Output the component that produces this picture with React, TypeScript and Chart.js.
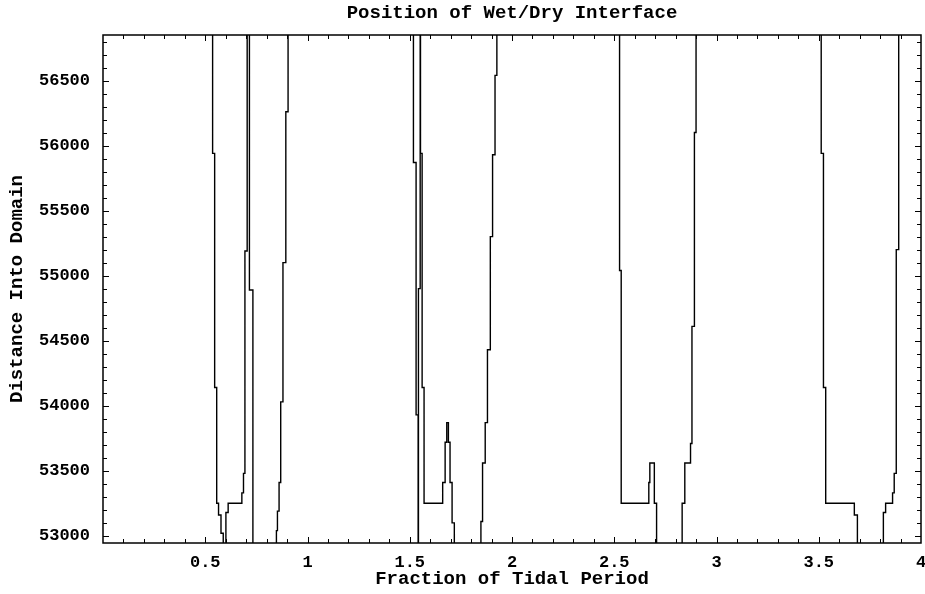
import React, { useEffect, useRef } from "react";
import { Chart, registerables } from "chart.js";

Chart.register(...registerables);

// ---- text ----
const TITLE = "Position of Wet/Dry Interface";
const X_TITLE = "Fraction of Tidal Period";
const Y_TITLE = "Distance Into Domain";

// ---- axes ----
const X_MIN = 0;
const X_MAX = 4;
const Y_MIN = 52945;
const Y_MAX = 56850;
const xTickValues = [0.5, 1, 1.5, 2, 2.5, 3, 3.5, 4];
const xTickLabels = ["0.5", "1", "1.5", "2", "2.5", "3", "3.5", "4"];
const yTickValues = [53000, 53500, 54000, 54500, 55000, 55500, 56000, 56500];
const yTickLabels = ["53000", "53500", "54000", "54500", "55000", "55500", "56000", "56500"];
const X_MINOR_STEP = 0.1;
const Y_MINOR_STEP = 100;

// ---- data: interface position (stepped), values beyond the frame are off-scale ----
const cycle1Time = [0, 0.536, 0.546, 0.556, 0.565, 0.577, 0.588, 0.601, 0.612, 0.679, 0.687, 0.694, 0.705, 0.716, 0.733, 0.848, 0.853, 0.861, 0.869, 0.88, 0.894, 0.905];
const cycle1Dist = [57200, 55940, 54140, 53250, 53160, 53020, 52700, 53180, 53250, 53330, 53480, 55190, 57200, 54890, 52700, 53040, 53190, 53410, 54030, 55100, 56260, 57200];

const cycle2Time = [1.518, 1.531, 1.541, 1.5425, 1.551, 1.5525, 1.5605, 1.57, 1.661, 1.673, 1.681, 1.689, 1.697, 1.707, 1.718, 1.848, 1.856, 1.869, 1.88, 1.894, 1.905, 1.917, 1.926];
const cycle2Dist = [55870, 53930, 52700, 54900, 57200, 55940, 54140, 53250, 53410, 53720, 53870, 53720, 53410, 53100, 52700, 53110, 53560, 53870, 54430, 55300, 55930, 56540, 57200];

const cycle3Time = [2.526, 2.534, 2.669, 2.674, 2.696, 2.707, 2.832, 2.845, 2.873, 2.88, 2.892, 2.9];
const cycle3Dist = [55040, 53250, 53410, 53560, 53250, 52700, 53250, 53560, 53710, 54610, 56100, 57200];

const cycle4Time = [3.512, 3.523, 3.534, 3.674, 3.689, 3.816, 3.827, 3.861, 3.869, 3.879, 3.891, 4.0];
const cycle4Dist = [55940, 54140, 53250, 53160, 52700, 53180, 53250, 53330, 53480, 55200, 57200, 57200];

const FONT_FAMILY = '"Liberation Mono", "Courier New", monospace';

function buildPoints() {
  const times = [...cycle1Time, ...cycle2Time, ...cycle3Time, ...cycle4Time];
  const dists = [...cycle1Dist, ...cycle2Dist, ...cycle3Dist, ...cycle4Dist];
  return times.map((t, i) => ({ x: t, y: dists[i] }));
}

const framePlugin = {
  id: "mathematicaFrame",
  afterDatasetsDraw(chart: any) {
    const { ctx, chartArea, scales } = chart;
    const { left, right, top, bottom } = chartArea;
    const xs = scales.x;
    const ys = scales.y;
    ctx.save();
    ctx.strokeStyle = "#000";
    ctx.lineWidth = 1;
    ctx.beginPath();
    // x ticks (inward, bottom and top)
    const nx = Math.round((X_MAX - X_MIN) / X_MINOR_STEP);
    for (let i = 1; i < nx; i++) {
      const v = X_MIN + i * X_MINOR_STEP;
      const px = Math.round(xs.getPixelForValue(v)) + 0.5;
      const len = i % 5 === 0 ? 6 : 4;
      ctx.moveTo(px, bottom);
      ctx.lineTo(px, bottom - len);
      ctx.moveTo(px, top);
      ctx.lineTo(px, top + len);
    }
    // y ticks (inward, left and right)
    for (let v = Math.ceil(Y_MIN / Y_MINOR_STEP) * Y_MINOR_STEP; v <= Y_MAX; v += Y_MINOR_STEP) {
      const py = Math.round(ys.getPixelForValue(v)) + 0.5;
      const len = v % 500 === 0 ? 6 : 4;
      ctx.moveTo(left, py);
      ctx.lineTo(left + len, py);
      ctx.moveTo(right, py);
      ctx.lineTo(right - len, py);
    }
    ctx.stroke();
    ctx.lineWidth = 1.5;
    ctx.strokeRect(left, top, right - left, bottom - top);
    // title
    ctx.fillStyle = "#000";
    ctx.font = `bold 19px ${FONT_FAMILY}`;
    ctx.textAlign = "center";
    ctx.textBaseline = "middle";
    ctx.fillText(TITLE, (left + right) / 2, 13);
    ctx.restore();
  },
};

export default function App() {
  const ref = useRef<HTMLCanvasElement>(null);
  useEffect(() => {
    const tickFont = { family: FONT_FAMILY, size: 17, weight: "bold" as const };
    const titleFont = { family: FONT_FAMILY, size: 19, weight: "bold" as const };
    const chart = new Chart(ref.current!, {
      type: "line",
      data: {
        datasets: [
          {
            data: buildPoints(),
            borderColor: "#000",
            borderWidth: 1.4,
            pointRadius: 0,
            stepped: "before",
            fill: false,
            tension: 0,
          },
        ],
      },
      options: {
        animation: false,
        responsive: false,
        maintainAspectRatio: false,
        layout: { padding: { top: 35, right: 4, left: 0, bottom: 0 } },
        plugins: {
          legend: { display: false },
          tooltip: { enabled: false },
          title: { display: false },
        },
        scales: {
          x: {
            type: "linear",
            min: X_MIN,
            max: X_MAX,
            grid: { display: false, drawTicks: false },
            border: { display: false },
            afterBuildTicks: (s: any) => {
              s.ticks = xTickValues.map((v) => ({ value: v }));
            },
            ticks: {
              autoSkip: false,
              maxRotation: 0,
              padding: 10,
              color: "#000",
              font: tickFont,
              callback: (_v: any, i: number) => xTickLabels[i],
            },
            title: {
              display: true,
              text: X_TITLE,
              color: "#000",
              font: titleFont,
              padding: { top: 0, bottom: 3 },
            },
            afterFit: (s: any) => {
              s.height = 51;
              s.paddingLeft = 0;
              s.paddingRight = 0;
            },
          },
          y: {
            type: "linear",
            min: Y_MIN,
            max: Y_MAX,
            grid: { display: false, drawTicks: false },
            border: { display: false },
            afterBuildTicks: (s: any) => {
              s.ticks = yTickValues.map((v) => ({ value: v }));
            },
            ticks: {
              autoSkip: false,
              padding: 13,
              color: "#000",
              font: tickFont,
              callback: (_v: any, i: number) => yTickLabels[i],
            },
            title: {
              display: true,
              text: Y_TITLE,
              color: "#000",
              font: titleFont,
              padding: { top: 6, bottom: 0 },
            },
            afterFit: (s: any) => {
              s.width = 103;
              s.paddingTop = 0;
              s.paddingBottom = 0;
            },
          },
        },
      },
      plugins: [framePlugin],
    });
    return () => chart.destroy();
  }, []);
  return (
    <div style={{ position: "absolute", left: 0, top: 0, width: 925, height: 594, background: "#fff" }}>
      <canvas ref={ref} width={925} height={594} style={{ display: "block", width: 925, height: 594 }} />
    </div>
  );
}
